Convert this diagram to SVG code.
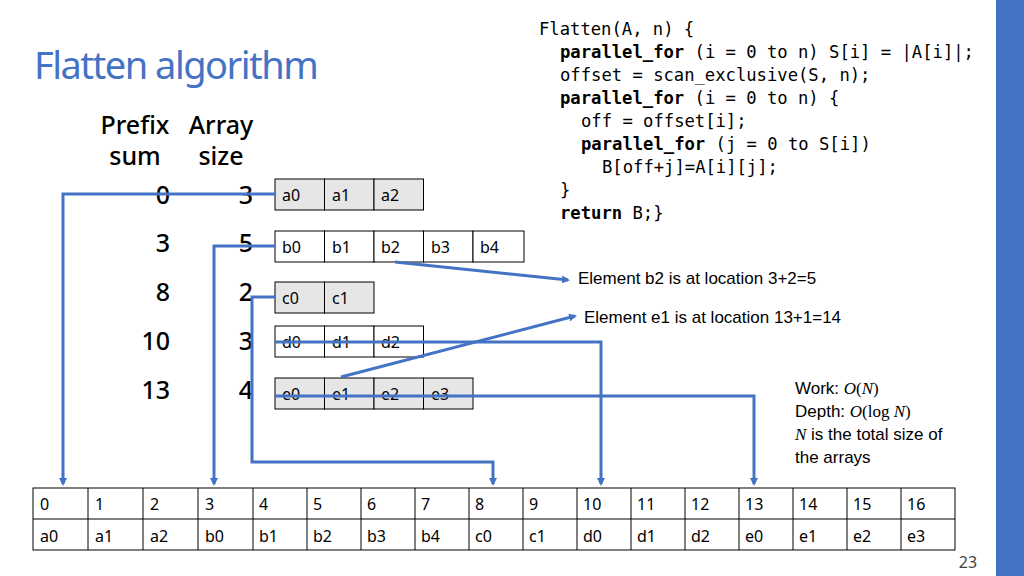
<svg xmlns="http://www.w3.org/2000/svg" width="1024" height="576" viewBox="0 0 1024 576">
<defs>
<marker id="ar" markerWidth="8" markerHeight="8" refX="6" refY="4" orient="auto" markerUnits="userSpaceOnUse"><path d="M0,0 L8,4 L0,8 Z" fill="#4472C4"/></marker>
<style>
.c{stroke:#000;stroke-width:1}
.g{fill:#e6e6e6}.w{fill:#fff}
.t{font-family:"Noto Sans","DejaVu Sans",sans-serif;font-size:16px;fill:#000}
.n{font-family:"Noto Sans",sans-serif;font-size:25px;font-weight:500;fill:#000}
.code{font-family:"DejaVu Sans Mono",monospace;font-size:17.2px;fill:#000;white-space:pre}
.b{font-weight:bold}
.a{font-family:"Liberation Sans",Arial,sans-serif;font-size:17px;fill:#000}
.ln{fill:none;stroke:#4472C4;stroke-width:3}
</style>
</defs>
<rect width="1024" height="576" fill="#fff"/>
<rect x="996" y="0" width="28" height="576" fill="#4472C4"/>
<text x="34" y="79" font-family="Noto Sans,sans-serif" font-size="38" fill="#4472C4" letter-spacing="-1.5">Flatten algorithm</text>
<g id="headers">
<text class="n" x="135" y="134" text-anchor="middle">Prefix</text>
<text class="n" x="135" y="165" text-anchor="middle">sum</text>
<text class="n" x="221" y="134" text-anchor="middle">Array</text>
<text class="n" x="221" y="165" text-anchor="middle">size</text>
<g text-anchor="end">
<text class="n" x="170" y="204">0</text><text class="n" x="170" y="252">3</text><text class="n" x="170" y="301">8</text><text class="n" x="170" y="350">10</text><text class="n" x="170" y="399">13</text>
<text class="n" x="253" y="204">3</text><text class="n" x="253" y="252">5</text><text class="n" x="253" y="301">2</text><text class="n" x="253" y="350">3</text><text class="n" x="253" y="399">4</text>
</g>
</g>
<g id="arrA">
<rect class="c g" x="275" y="179" width="49.5" height="31"/><rect class="c g" x="324.5" y="179" width="49.5" height="31"/><rect class="c g" x="374" y="179" width="49.5" height="31"/>
<text class="t" x="282" y="201">a0</text><text class="t" x="332" y="201">a1</text><text class="t" x="381" y="201">a2</text>
</g>
<g id="arrB">
<rect class="c w" x="275" y="231" width="49.5" height="31"/><rect class="c w" x="324.5" y="231" width="49.5" height="31"/><rect class="c w" x="374" y="231" width="49.5" height="31"/><rect class="c w" x="423.5" y="231" width="49.5" height="31"/><rect class="c w" x="473" y="231" width="51" height="31"/>
<text class="t" x="282" y="253">b0</text><text class="t" x="332" y="253">b1</text><text class="t" x="381" y="253">b2</text><text class="t" x="431" y="253">b3</text><text class="t" x="480" y="253">b4</text>
</g>
<g id="arrC">
<rect class="c g" x="275" y="282" width="49.5" height="31"/><rect class="c g" x="324.5" y="282" width="49.5" height="31"/>
<text class="t" x="282" y="304">c0</text><text class="t" x="332" y="304">c1</text>
</g>
<g id="arrD">
<rect class="c w" x="275" y="326" width="49.5" height="31"/><rect class="c w" x="324.5" y="326" width="49.5" height="31"/><rect class="c w" x="374" y="326" width="49.5" height="31"/>
<text class="t" x="282" y="348">d0</text><text class="t" x="332" y="348">d1</text><text class="t" x="381" y="348">d2</text>
</g>
<g id="arrE">
<rect class="c g" x="275" y="378" width="49.5" height="31"/><rect class="c g" x="324.5" y="378" width="49.5" height="31"/><rect class="c g" x="374" y="378" width="49.5" height="31"/><rect class="c g" x="423.5" y="378" width="49.5" height="31"/>
<text class="t" x="282" y="400">e0</text><text class="t" x="332" y="400">e1</text><text class="t" x="381" y="400">e2</text><text class="t" x="431" y="400">e3</text>
</g>
<g id="code">
<text class="code" x="539" y="35">Flatten(A, n) {</text>
<text class="code" x="560" y="58"><tspan class="b">parallel_for</tspan> (i = 0 to n) S[i] = |A[i]|;</text>
<text class="code" x="560" y="81">offset = scan_exclusive(S, n);</text>
<text class="code" x="560" y="104"><tspan class="b">parallel_for</tspan> (i = 0 to n) {</text>
<text class="code" x="581" y="127">off = offset[i];</text>
<text class="code" x="581" y="150"><tspan class="b">parallel_for</tspan> (j = 0 to S[i])</text>
<text class="code" x="602" y="173">B[off+j]=A[i][j];</text>
<text class="code" x="560" y="196">}</text>
<text class="code" x="560" y="219"><tspan class="b">return</tspan> B;}</text>
</g>
<g id="notes">
<text class="a" x="578" y="284">Element b2 is at location 3+2=5</text>
<text class="a" x="584" y="323">Element e1 is at location 13+1=14</text>
<text class="a" x="795" y="394">Work: <tspan font-family="Liberation Serif,serif" font-style="italic">O</tspan><tspan font-family="Liberation Serif,serif">(</tspan><tspan font-family="Liberation Serif,serif" font-style="italic">N</tspan><tspan font-family="Liberation Serif,serif">)</tspan></text>
<text class="a" x="795" y="417">Depth: <tspan font-family="Liberation Serif,serif" font-style="italic">O</tspan><tspan font-family="Liberation Serif,serif">(log </tspan><tspan font-family="Liberation Serif,serif" font-style="italic">N</tspan><tspan font-family="Liberation Serif,serif">)</tspan></text>
<text class="a" x="795" y="440"><tspan font-family="Liberation Serif,serif" font-style="italic">N</tspan> is the total size of</text>
<text class="a" x="795" y="463">the arrays</text>
</g>
<g id="result">
<g fill="#fff" stroke="#000" stroke-width="1">
<rect x="33" y="488" width="922" height="62"/>
<line x1="33" y1="519" x2="955" y2="519"/>
<line x1="88" y1="488" x2="88" y2="550"/><line x1="143" y1="488" x2="143" y2="550"/><line x1="198" y1="488" x2="198" y2="550"/><line x1="253" y1="488" x2="253" y2="550"/><line x1="307" y1="488" x2="307" y2="550"/><line x1="361" y1="488" x2="361" y2="550"/><line x1="415" y1="488" x2="415" y2="550"/><line x1="469" y1="488" x2="469" y2="550"/><line x1="523" y1="488" x2="523" y2="550"/><line x1="577" y1="488" x2="577" y2="550"/><line x1="631" y1="488" x2="631" y2="550"/><line x1="685" y1="488" x2="685" y2="550"/><line x1="739" y1="488" x2="739" y2="550"/><line x1="793" y1="488" x2="793" y2="550"/><line x1="847" y1="488" x2="847" y2="550"/><line x1="901" y1="488" x2="901" y2="550"/>
</g>
<g class="t">
<text x="40" y="510">0</text><text x="95" y="510">1</text><text x="150" y="510">2</text><text x="205" y="510">3</text><text x="259" y="510">4</text><text x="313" y="510">5</text><text x="367" y="510">6</text><text x="421" y="510">7</text><text x="475" y="510">8</text><text x="529" y="510">9</text><text x="583" y="510">10</text><text x="637" y="510">11</text><text x="691" y="510">12</text><text x="745" y="510">13</text><text x="799" y="510">14</text><text x="853" y="510">15</text><text x="907" y="510">16</text>
<text x="40" y="542">a0</text><text x="95" y="542">a1</text><text x="150" y="542">a2</text><text x="205" y="542">b0</text><text x="259" y="542">b1</text><text x="313" y="542">b2</text><text x="367" y="542">b3</text><text x="421" y="542">b4</text><text x="475" y="542">c0</text><text x="529" y="542">c1</text><text x="583" y="542">d0</text><text x="637" y="542">d1</text><text x="691" y="542">d2</text><text x="745" y="542">e0</text><text x="799" y="542">e1</text><text x="853" y="542">e2</text><text x="907" y="542">e3</text>
</g>
</g>
<g id="connectors">
<polyline class="ln" points="275,194 63,194 63,484" marker-end="url(#ar)"/>
<polyline class="ln" points="275,246 214,246 214,484" marker-end="url(#ar)"/>
<polyline class="ln" points="275,297 252,297 252,462 493,462 493,484" marker-end="url(#ar)"/>
<polyline class="ln" points="275,342 601,342 601,484" marker-end="url(#ar)"/>
<polyline class="ln" points="275,396 754,396 754,484" marker-end="url(#ar)"/>
<line class="ln" x1="395" y1="262" x2="568" y2="280" marker-end="url(#ar)"/>
<line class="ln" x1="341" y1="377" x2="575" y2="316" marker-end="url(#ar)"/>
</g>
<text x="968" y="568" font-family="Noto Sans,sans-serif" font-size="16" fill="#444" text-anchor="middle">23</text>
</svg>
